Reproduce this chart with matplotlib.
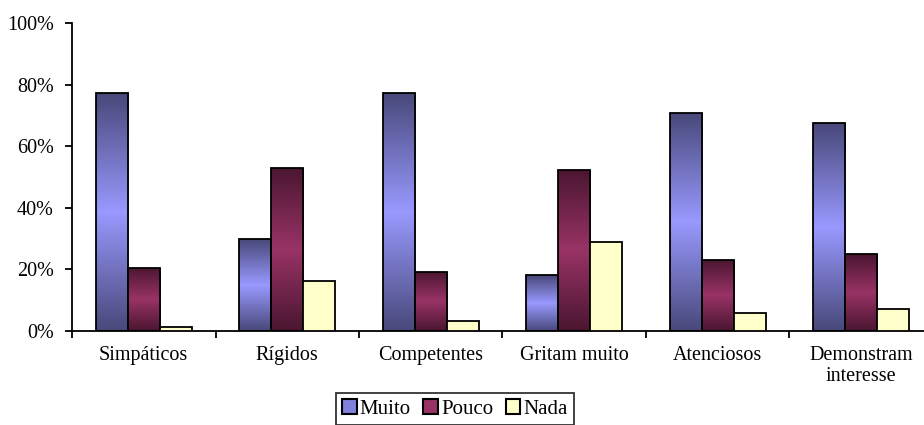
import numpy as np
import matplotlib

matplotlib.use("Agg")
import matplotlib.pyplot as plt
from matplotlib.colors import LinearSegmentedColormap
from matplotlib.patches import Patch

categories = ["Simpáticos", "Rígidos", "Competentes", "Gritam muito",
              "Atenciosos", "Demonstram\ninteresse"]
muito = [77.2, 29.8, 77.3, 18.1, 70.8, 67.5]
pouco = [20.6, 53.0, 19.2, 52.3, 23.1, 25.0]
nada = [1.4, 16.3, 3.2, 28.8, 5.7, 7.1]
series_names = ["Muito", "Pouco", "Nada"]

plt.rcParams["font.family"] = ["Liberation Serif", "DejaVu Serif"]

cm_muito = LinearSegmentedColormap.from_list("m", ["#48487a", "#9999ff", "#48487a"])
cm_pouco = LinearSegmentedColormap.from_list("p", ["#4a1630", "#993366", "#4a1630"])

fig = plt.figure(figsize=(9.24, 4.25), dpi=100)
# axis runs past the right edge like in the source image
ax = fig.add_axes([72 / 924, 1 - 331 / 425, 861 / 924, 308 / 425])

x = np.arange(len(categories))
w = 0.223
grad = np.linspace(0, 1, 256).reshape(-1, 1)


def gradient_bars(pos, vals, cmap):
    bars = ax.bar(pos, vals, w, facecolor="none", edgecolor="black", lw=1.3, zorder=3)
    for b in bars:
        x0, y0 = b.get_x(), b.get_y()
        im = ax.imshow(grad, cmap=cmap, aspect="auto", zorder=2,
                       extent=(x0, x0 + b.get_width(), y0, y0 + b.get_height()))
        im.set_clip_path(b)
    return bars


gradient_bars(x - w, muito, cm_muito)
gradient_bars(x, pouco, cm_pouco)
ax.bar(x + w, nada, w, color="#ffffcc", edgecolor="black", lw=1.3, zorder=3)

ax.set_xlim(-0.5, len(categories) - 0.5)
ax.set_ylim(0, 100)
ax.set_yticks(np.arange(0, 101, 20))
ax.set_yticklabels([f"{v}%" for v in range(0, 101, 20)], fontsize=14.5)
ax.set_xticks(x)
ax.set_xticklabels(categories, fontsize=14.5, linespacing=1.15)
ax.set_xticks(np.arange(-0.5, len(categories)), minor=True)
ax.tick_params(axis="x", which="major", length=0, pad=11)
ax.tick_params(axis="x", which="minor", length=5, width=1.3, direction="out")
ax.tick_params(axis="y", length=5, width=1.3, direction="out", pad=8)

for s in ["top", "right"]:
    ax.spines[s].set_visible(False)
for s in ["left", "bottom"]:
    ax.spines[s].set_linewidth(1.3)

handles = [Patch(facecolor="#8080dd", edgecolor="black", lw=1.5),
           Patch(facecolor="#993366", edgecolor="black", lw=1.5),
           Patch(facecolor="#ffffcc", edgecolor="black", lw=1.5)]
leg = fig.legend(handles, series_names, loc="upper center", ncol=3,
                 bbox_to_anchor=(455 / 924, 1 - 393 / 425), fontsize=15,
                 frameon=True, fancybox=False, handlelength=0.7, handleheight=0.7,
                 handletextpad=0.15, columnspacing=0.6, borderpad=0.3,
                 borderaxespad=0)
leg.get_frame().set_edgecolor("black")
leg.get_frame().set_linewidth(1.3)

fig.savefig("out.png", dpi=100)
